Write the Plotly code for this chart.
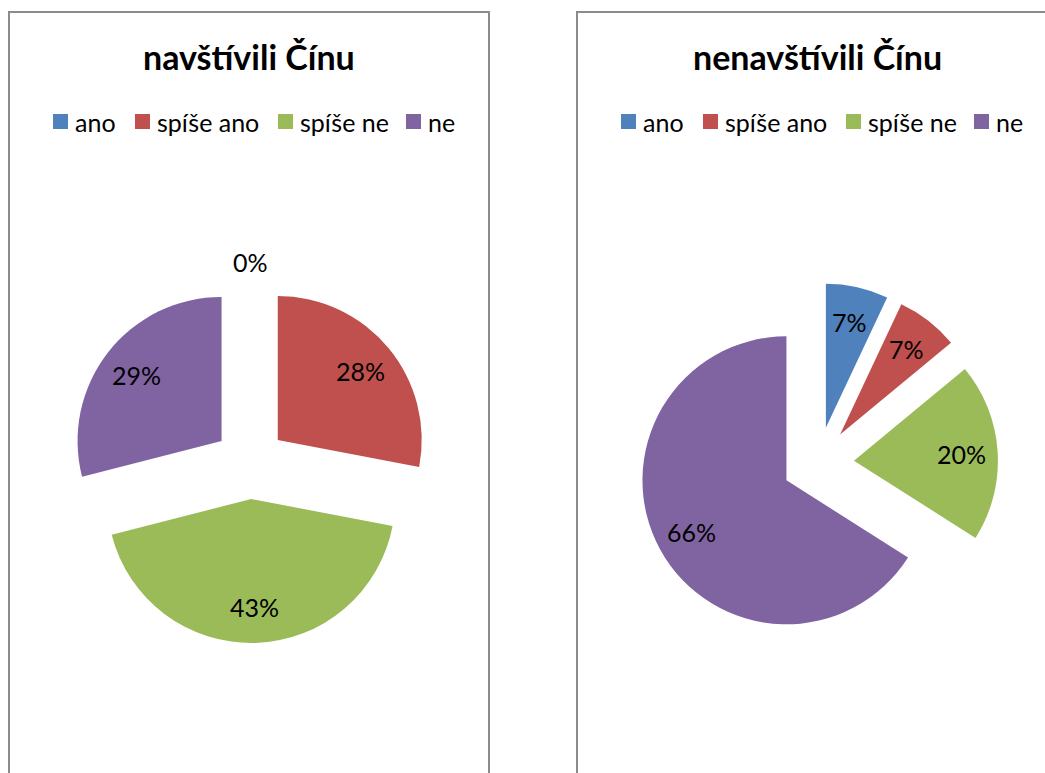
import math
import plotly.graph_objects as go

categories = ["ano", "spíše ano", "spíše ne", "ne"]
colors = ["#4F81BD", "#C0504D", "#9BBB59", "#8064A2"]

title_left = "navštívili Čínu"
values_left = [0, 28, 43, 29]

title_right = "nenavštívili Čínu"
values_right = [7, 7, 20, 66]

W, H = 1045, 773
FONT = "Lato"
LABEL_SIZE = 25
PULL = 0.25


def px(x):
    return x / W


def py(y):
    return 1 - y / H


# layout of the two chart panels (pixel boxes) and pie domains
panels = [
    dict(box=(9, 489), title=title_left, values=values_left, dom_x=(70, 430)),
    dict(box=(577, 1057), title=title_right, values=values_right, dom_x=(638, 998)),
]
DOM_Y = (283, 643)

legend_text_widths = [39, 100, 85, 27]

fig = go.Figure()
shapes = []
annotations = []

for p in panels:
    vals = p["values"]
    fig.add_trace(go.Pie(
        labels=categories, values=vals, sort=False, direction="clockwise",
        rotation=0, pull=[PULL] * len(vals),
        marker=dict(colors=colors, line=dict(width=0)),
        textinfo="none",
        domain=dict(x=[px(p["dom_x"][0]), px(p["dom_x"][1])],
                    y=[py(DOM_Y[1]), py(DOM_Y[0])]),
        showlegend=False, hoverinfo="label+percent",
    ))

    # percentage labels placed Excel-style along each slice's mid angle
    cx = (p["dom_x"][0] + p["dom_x"][1]) / 2
    cy = (DOM_Y[0] + DOM_Y[1]) / 2
    r = (p["dom_x"][1] - p["dom_x"][0]) / 2 / (1 + PULL)
    total = float(sum(vals))
    cum = 0.0
    for v in vals:
        frac = v / total
        mid = (cum + frac / 2) * 2 * math.pi
        cum += frac
        ux, uy = math.sin(mid), -math.cos(mid)
        dist = PULL * r + (0.75 * r if v > 0 else r + 21)
        annotations.append(dict(
            text="%d%%" % round(frac * 100), xref="paper", yref="paper",
            x=px(cx + ux * dist), y=py(cy + uy * dist),
            xanchor="center", yanchor="middle", showarrow=False,
            font=dict(family=FONT, size=LABEL_SIZE, color="#000000")))

    x0, x1 = p["box"]
    shapes.append(dict(type="rect", xref="paper", yref="paper",
                       x0=px(x0), x1=px(x1), y0=py(820), y1=py(12),
                       line=dict(color="#8C8C8C", width=2), fillcolor="rgba(0,0,0,0)"))
    bcx = (x0 + x1) / 2
    annotations.append(dict(text="<b>%s</b>" % p["title"], xref="paper", yref="paper",
                            x=px(bcx), y=py(57), xanchor="center", yanchor="middle",
                            showarrow=False, font=dict(family=FONT, size=34, color="#000000")))
    sq, gap_sq, gap_item = 15, 7, 21
    tot = sum(sq + gap_sq + w for w in legend_text_widths) + gap_item * (len(categories) - 1)
    xs = bcx + 5 - tot / 2
    for cat, col, w in zip(categories, colors, legend_text_widths):
        shapes.append(dict(type="rect", xref="paper", yref="paper",
                           x0=px(xs), x1=px(xs + sq), y0=py(129), y1=py(114),
                           line=dict(width=0), fillcolor=col))
        annotations.append(dict(text=cat, xref="paper", yref="paper",
                                x=px(xs + sq + gap_sq - 2), y=py(122), xanchor="left", yanchor="middle",
                                showarrow=False, font=dict(family=FONT, size=25, color="#000000")))
        xs += sq + gap_sq + w + gap_item

fig.update_layout(
    width=W, height=H,
    margin=dict(l=0, r=0, t=0, b=0),
    paper_bgcolor="#FFFFFF", plot_bgcolor="#FFFFFF",
    shapes=shapes, annotations=annotations,
)

fig.write_html("out.html",
               config=dict(displayModeBar=False),
               post_script="document.body.style.margin='0';document.body.style.overflow='hidden';")
